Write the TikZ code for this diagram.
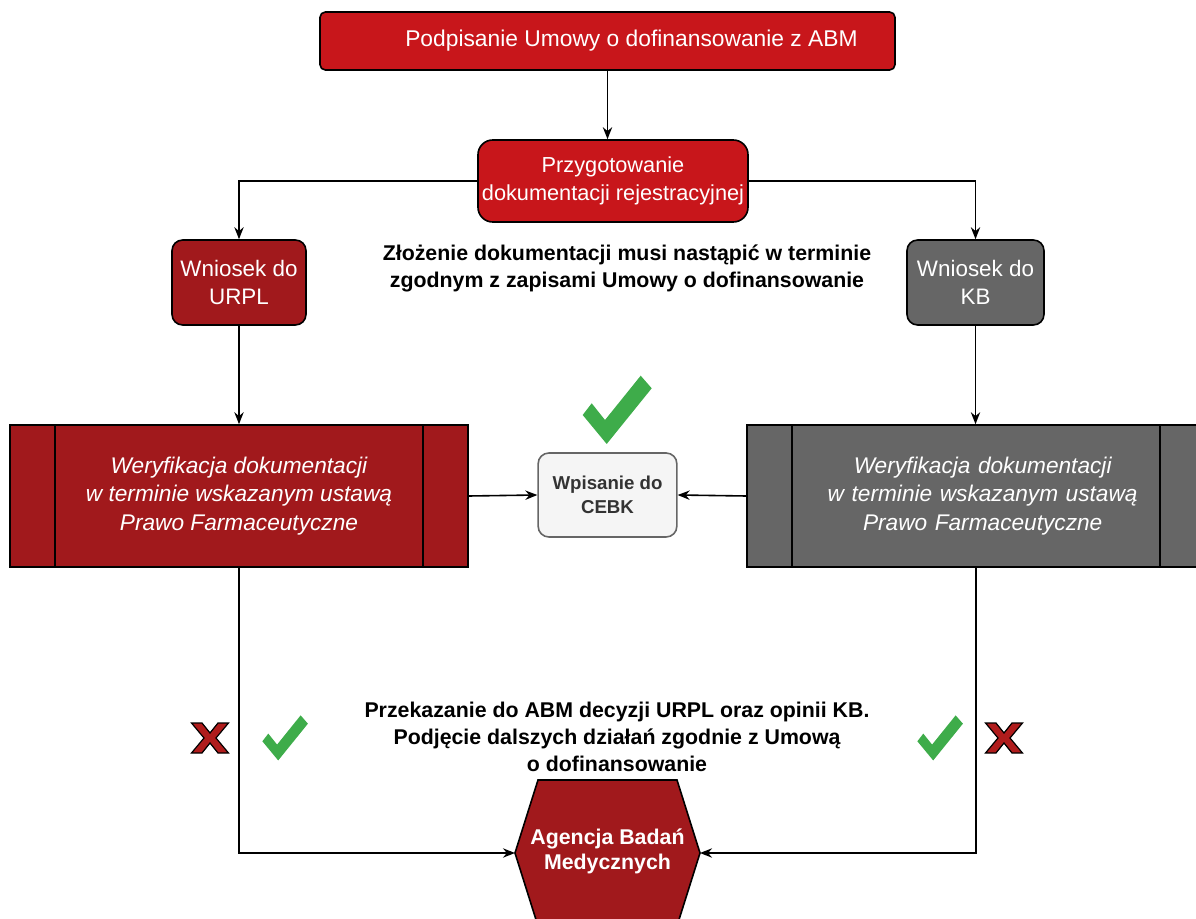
\documentclass[tikz,border=0pt]{standalone}
\usepackage{fontspec}
\setmainfont{Liberation Sans}
\usetikzlibrary{arrows.meta,calc}
\definecolor{brightred}{HTML}{C8161B}
\definecolor{darkred}{HTML}{A1191C}
\definecolor{boxgray}{HTML}{666666}
\definecolor{lightfill}{HTML}{F5F5F5}
\definecolor{cebktext}{HTML}{333333}
\definecolor{checkgreen}{HTML}{3EAC4A}
\definecolor{xred}{HTML}{B01C1C}
\tikzset{
  base/.style={draw=black, line width=1.2pt, text=white, align=center, inner sep=0pt},
  topbox/.style={base, fill=brightred, rounded corners=4pt},
  prepbox/.style={base, fill=brightred, rounded corners=11pt},
  reqbox/.style={base, rounded corners=8pt},
  verbox/.style={base, font=\fontsize{17}{21.4}\selectfont\itshape},
  cebkbox/.style={draw=boxgray, line width=1.2pt, fill=lightfill, rounded corners=8pt, text=cebktext, align=center, font=\fontsize{14}{18}\selectfont\bfseries},
  note/.style={align=center, font=\fontsize{16}{20.25}\selectfont\bfseries},
  arr/.style={draw=black, line width=1.2pt, -{Stealth[length=9pt,width=7pt]}},
  check/.pic={\fill[checkgreen] (-25.3,-6.7) -- (-12,10) -- (23.7,-34.3) -- (34.7,-21.7) -- (-10.3,34) -- (-34.3,5) -- cycle;},
  xmark/.pic={\filldraw[fill=xred, draw=black, line width=0.9pt] (-18.5,-15) -- (-8,-15) -- (0,-5) -- (8,-15) -- (18.5,-15) -- (6,0) -- (18.5,15) -- (8,15) -- (0,5) -- (-8,15) -- (-18.5,15) -- (-6,0) -- cycle;}
}
\begin{document}
\begin{tikzpicture}[x=0.75pt,y=-0.75pt]
\useasboundingbox (0,0) rectangle (1196,919);
% top
\node[topbox, minimum width=431.25pt, minimum height=43.5pt,
  label={[text=white, font=\fontsize{17.1}{20}\selectfont, xshift=18pt]center:Podpisanie Umowy o dofinansowanie z ABM}] (top) at (607.5,41) {};
\node[prepbox, minimum width=202.5pt, minimum height=61.5pt, font=\fontsize{16.3}{21}\selectfont] (prep) at (613,181) {Przygotowanie\\dokumentacji rejestracyjnej};
\node[reqbox, fill=darkred, minimum width=100.5pt, minimum height=63.75pt, font=\fontsize{16.8}{21}\selectfont] (wurpl) at (239,282.5) {Wniosek do\\URPL};
\node[reqbox, fill=boxgray, minimum width=102.75pt, minimum height=63.75pt, font=\fontsize{16.8}{21}\selectfont] (wkb) at (975.5,282.5) {Wniosek do\\KB};
\node[note] (n1) at (627,268) {Złożenie dokumentacji musi nastąpić w terminie\\zgodnym z zapisami Umowy o dofinansowanie};
% verification
\node[verbox, fill=darkred, minimum width=343.5pt, minimum height=106.5pt] (weryL) at (239,496) {Weryfikacja dokumentacji\\w terminie wskazanym ustawą\\Prawo Farmaceutyczne};
\draw[line width=1.2pt] ($(weryL.north west)+(46,0)$) -- ($(weryL.south west)+(46,0)$);
\draw[line width=1.2pt] ($(weryL.north east)+(-46,0)$) -- ($(weryL.south east)+(-46,0)$);
\node[verbox, fill=boxgray, minimum width=343.5pt, minimum height=106.5pt, text width=330pt] (weryR) at (976,496) {\hspace*{10pt}Weryfikacja dokumentacji\\\hspace*{10pt}w terminie wskazanym ustawą\\\hspace*{10pt}Prawo Farmaceutyczne};
\draw[line width=1.2pt] ($(weryR.north west)+(46,0)$) -- ($(weryR.south west)+(46,0)$);
\draw[line width=1.2pt] ($(weryR.north east)+(-46,0)$) -- ($(weryR.south east)+(-46,0)$);
\node[cebkbox, minimum width=104pt, minimum height=63pt] (cebk) at (607.5,495) {Wpisanie do\\CEBK};
% hexagon
\fill[darkred] (538,780) -- (677,780) -- (700,853) -- (677,926) -- (538,926) -- (515,853) -- cycle;
\draw[line width=1.2pt] (538,780) -- (677,780) -- (700,853) -- (677,926) -- (538,926) -- (515,853) -- cycle;
\node[minimum width=138.75pt, minimum height=109.5pt, inner sep=0pt, text=white, align=center, font=\fontsize{16}{18.75}\selectfont\bfseries] (abm) at (607.5,851) {Agencja Badań\\Medycznych};
\node[note] (n2) at (617,737) {Przekazanie do ABM decyzji URPL oraz opinii KB.\\Podjęcie dalszych działań zgodnie z Umową\\o dofinansowanie};
% connectors
\draw[arr] (top.south) -- (top.south |- prep.north);
\draw[arr] (prep.west) -| (wurpl.north);
\draw[arr] (prep.east) -| (wkb.north);
\draw[arr] (wurpl.south) -- (wurpl.south |- weryL.north);
\draw[arr] (wkb.south) -- (wkb.south |- weryR.north);
\draw[arr] (weryL.east) -- (cebk.west);
\draw[arr] (weryR.west) -- (cebk.east);
\draw[arr] (weryL.south) |- (515,853);
\draw[arr] (weryR.south) |- (700,853);
% marks
\pic at (617,410) {check};
\pic[scale=0.66] at (285,738) {check};
\pic[scale=0.66] at (940,738) {check};
\pic at (210,738) {xmark};
\pic at (1004,738) {xmark};
\end{tikzpicture}
\end{document}
